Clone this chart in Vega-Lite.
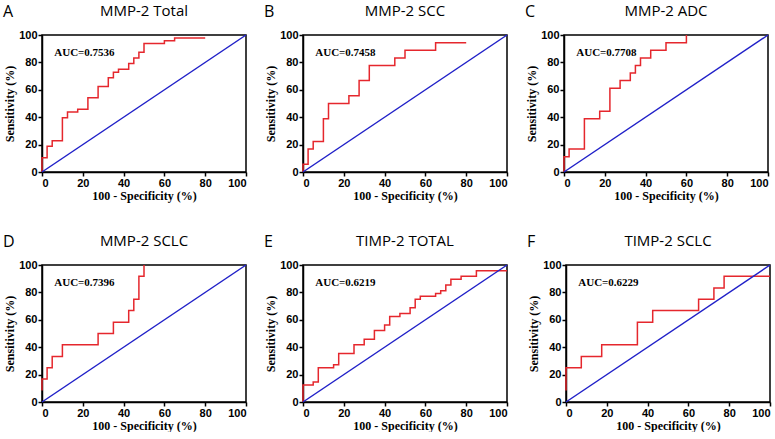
{
  "$schema": "https://vega.github.io/schema/vega-lite/v6.json",
  "background": "white",
  "padding": {"left": 2, "top": 3, "right": 0, "bottom": 0},
  "config": {
    "view": {"stroke": "black", "strokeWidth": 1.5},
    "axis": {
      "grid": false, "labelOverlap": false,
      "domainColor": "black", "domainWidth": 1.5,
      "tickColor": "black", "tickWidth": 1.5, "tickSize": 4,
      "labelFont": "Liberation Sans", "labelFontWeight": "bold", "labelFontSize": 11, "labelColor": "black", "labelPadding": 1,
      "titleFont": "Liberation Serif", "titleFontWeight": "bold", "titleFontSize": 12, "titleColor": "black", "titlePadding": 2
    },
    "title": {"font": "Open Sans", "fontWeight": "normal", "fontSize": 15, "color": "black", "offset": 10},
    "concat": {"spacing": 15}
  },
  "datasets": {
    "A": [{"x":0,"y":0},{"x":0,"y":10.4},{"x":2.5,"y":18.75},{"x":5,"y":22.9},{"x":10,"y":39.6},{"x":12.5,"y":43.75},{"x":17.5,"y":45.8},{"x":22.5,"y":54.2},{"x":27.5,"y":62.5},{"x":32.5,"y":68.75},{"x":35,"y":72.9},{"x":37.5,"y":75},{"x":42.5,"y":79.2},{"x":45,"y":83.3},{"x":47.5,"y":87.5},{"x":50,"y":93.75},{"x":60,"y":95.8},{"x":65,"y":97.9},{"x":80,"y":97.9}],
    "B": [{"x":0,"y":0},{"x":0,"y":5.6},{"x":2.5,"y":16.7},{"x":5,"y":22.2},{"x":10,"y":38.9},{"x":12.5,"y":50},{"x":22.5,"y":55.6},{"x":27.5,"y":66.7},{"x":32.5,"y":77.8},{"x":45,"y":83.3},{"x":50,"y":88.9},{"x":65,"y":94.4},{"x":80,"y":94.4}],
    "C": [{"x":0,"y":0},{"x":0,"y":11.1},{"x":2.5,"y":16.7},{"x":10,"y":38.9},{"x":17.5,"y":44.4},{"x":22.5,"y":61.1},{"x":27.5,"y":66.7},{"x":32.5,"y":72.2},{"x":35,"y":77.8},{"x":37.5,"y":83.3},{"x":42.5,"y":88.9},{"x":50,"y":94.4},{"x":60,"y":100}],
    "D": [{"x":0,"y":8.33},{"x":0,"y":16.7},{"x":2.5,"y":25},{"x":5,"y":33.3},{"x":10,"y":41.7},{"x":27.5,"y":50},{"x":35,"y":58.3},{"x":42.5,"y":66.7},{"x":45,"y":75},{"x":47.5,"y":91.7},{"x":50,"y":100}],
    "E": [{"x":0,"y":0},{"x":0,"y":12.5},{"x":5,"y":14.6},{"x":7.5,"y":25},{"x":15,"y":27.1},{"x":17.5,"y":35.4},{"x":25,"y":41.7},{"x":30,"y":45.8},{"x":35,"y":52.1},{"x":40,"y":56.25},{"x":42.5,"y":62.5},{"x":47.5,"y":64.6},{"x":52.5,"y":68.75},{"x":55,"y":75},{"x":57.5,"y":77.1},{"x":65,"y":79.2},{"x":67.5,"y":81.25},{"x":70,"y":85.4},{"x":72.5,"y":89.6},{"x":77.5,"y":91.7},{"x":85,"y":95.8},{"x":100,"y":95.8}],
    "F": [{"x":0,"y":8.33},{"x":0,"y":25},{"x":7.5,"y":33.3},{"x":17.5,"y":41.7},{"x":35,"y":58.3},{"x":42.5,"y":66.7},{"x":65,"y":75},{"x":72.5,"y":83.3},{"x":77.5,"y":91.7},{"x":100,"y":91.7}],
    "one": [{"k": 1}]
  },
  "spacing": 31,
  "vconcat": [
    {"hconcat": [
      {"title": {"text": "A", "anchor": "start", "fontSize": 16, "offset": -17}, "vconcat": [{
        "width": 204, "height": 137, "title": "MMP-2 Total",
        "layer": [
          {"data": {"name": "A"}, "mark": {"type": "line", "interpolate": "step-after", "color": "#e5272d", "strokeWidth": 1.5}, "encoding": {"x": {"field": "x", "type": "quantitative", "scale": {"domain": [0,100]}, "axis": {"values": [0,20,40,60,80,100], "title": "100 - Specificity (%)"}}, "y": {"field": "y", "type": "quantitative", "scale": {"domain": [0,100]}, "axis": {"values": [0,20,40,60,80,100], "title": "Sensitivity (%)"}}, "order": [{"field": "x"}, {"field": "y"}]}},
          {"data": {"name": "one"}, "mark": {"type": "rule", "color": "#2020c8", "strokeWidth": 1.5}, "encoding": {"x": {"datum": 0, "axis": {"values": [0,20,40,60,80,100], "title": "100 - Specificity (%)"}}, "y": {"datum": 0, "axis": {"values": [0,20,40,60,80,100], "title": "Sensitivity (%)"}}, "x2": {"datum": 100}, "y2": {"datum": 100}}},
          {"data": {"name": "one"}, "mark": {"type": "text", "align": "left", "baseline": "middle", "font": "Liberation Serif", "fontWeight": "bold", "fontSize": 11, "color": "black"}, "encoding": {"x": {"datum": 6, "axis": {"values": [0,20,40,60,80,100], "title": "100 - Specificity (%)"}}, "y": {"datum": 87, "axis": {"values": [0,20,40,60,80,100], "title": "Sensitivity (%)"}}, "text": {"value": "AUC=0.7536"}}}
        ]}]},
      {"title": {"text": "B", "anchor": "start", "fontSize": 16, "offset": -17}, "vconcat": [{
        "width": 204, "height": 137, "title": "MMP-2 SCC",
        "layer": [
          {"data": {"name": "B"}, "mark": {"type": "line", "interpolate": "step-after", "color": "#e5272d", "strokeWidth": 1.5}, "encoding": {"x": {"field": "x", "type": "quantitative", "scale": {"domain": [0,100]}, "axis": {"values": [0,20,40,60,80,100], "title": "100 - Specificity (%)"}}, "y": {"field": "y", "type": "quantitative", "scale": {"domain": [0,100]}, "axis": {"values": [0,20,40,60,80,100], "title": "Sensitivity (%)"}}, "order": [{"field": "x"}, {"field": "y"}]}},
          {"data": {"name": "one"}, "mark": {"type": "rule", "color": "#2020c8", "strokeWidth": 1.5}, "encoding": {"x": {"datum": 0, "axis": {"values": [0,20,40,60,80,100], "title": "100 - Specificity (%)"}}, "y": {"datum": 0, "axis": {"values": [0,20,40,60,80,100], "title": "Sensitivity (%)"}}, "x2": {"datum": 100}, "y2": {"datum": 100}}},
          {"data": {"name": "one"}, "mark": {"type": "text", "align": "left", "baseline": "middle", "font": "Liberation Serif", "fontWeight": "bold", "fontSize": 11, "color": "black"}, "encoding": {"x": {"datum": 6, "axis": {"values": [0,20,40,60,80,100], "title": "100 - Specificity (%)"}}, "y": {"datum": 87, "axis": {"values": [0,20,40,60,80,100], "title": "Sensitivity (%)"}}, "text": {"value": "AUC=0.7458"}}}
        ]}]},
      {"title": {"text": "C", "anchor": "start", "fontSize": 16, "offset": -17}, "vconcat": [{
        "width": 204, "height": 137, "title": "MMP-2 ADC",
        "layer": [
          {"data": {"name": "C"}, "mark": {"type": "line", "interpolate": "step-after", "color": "#e5272d", "strokeWidth": 1.5}, "encoding": {"x": {"field": "x", "type": "quantitative", "scale": {"domain": [0,100]}, "axis": {"values": [0,20,40,60,80,100], "title": "100 - Specificity (%)"}}, "y": {"field": "y", "type": "quantitative", "scale": {"domain": [0,100]}, "axis": {"values": [0,20,40,60,80,100], "title": "Sensitivity (%)"}}, "order": [{"field": "x"}, {"field": "y"}]}},
          {"data": {"name": "one"}, "mark": {"type": "rule", "color": "#2020c8", "strokeWidth": 1.5}, "encoding": {"x": {"datum": 0, "axis": {"values": [0,20,40,60,80,100], "title": "100 - Specificity (%)"}}, "y": {"datum": 0, "axis": {"values": [0,20,40,60,80,100], "title": "Sensitivity (%)"}}, "x2": {"datum": 100}, "y2": {"datum": 100}}},
          {"data": {"name": "one"}, "mark": {"type": "text", "align": "left", "baseline": "middle", "font": "Liberation Serif", "fontWeight": "bold", "fontSize": 11, "color": "black"}, "encoding": {"x": {"datum": 6, "axis": {"values": [0,20,40,60,80,100], "title": "100 - Specificity (%)"}}, "y": {"datum": 87, "axis": {"values": [0,20,40,60,80,100], "title": "Sensitivity (%)"}}, "text": {"value": "AUC=0.7708"}}}
        ]}]}
    ]},
    {"hconcat": [
      {"title": {"text": "D", "anchor": "start", "fontSize": 16, "offset": -17}, "vconcat": [{
        "width": 204, "height": 137, "title": "MMP-2 SCLC",
        "layer": [
          {"data": {"name": "D"}, "mark": {"type": "line", "interpolate": "step-after", "color": "#e5272d", "strokeWidth": 1.5}, "encoding": {"x": {"field": "x", "type": "quantitative", "scale": {"domain": [0,100]}, "axis": {"values": [0,20,40,60,80,100], "title": "100 - Specificity (%)"}}, "y": {"field": "y", "type": "quantitative", "scale": {"domain": [0,100]}, "axis": {"values": [0,20,40,60,80,100], "title": "Sensitivity (%)"}}, "order": [{"field": "x"}, {"field": "y"}]}},
          {"data": {"name": "one"}, "mark": {"type": "rule", "color": "#2020c8", "strokeWidth": 1.5}, "encoding": {"x": {"datum": 0, "axis": {"values": [0,20,40,60,80,100], "title": "100 - Specificity (%)"}}, "y": {"datum": 0, "axis": {"values": [0,20,40,60,80,100], "title": "Sensitivity (%)"}}, "x2": {"datum": 100}, "y2": {"datum": 100}}},
          {"data": {"name": "one"}, "mark": {"type": "text", "align": "left", "baseline": "middle", "font": "Liberation Serif", "fontWeight": "bold", "fontSize": 11, "color": "black"}, "encoding": {"x": {"datum": 6, "axis": {"values": [0,20,40,60,80,100], "title": "100 - Specificity (%)"}}, "y": {"datum": 87, "axis": {"values": [0,20,40,60,80,100], "title": "Sensitivity (%)"}}, "text": {"value": "AUC=0.7396"}}}
        ]}]},
      {"title": {"text": "E", "anchor": "start", "fontSize": 16, "offset": -17}, "vconcat": [{
        "width": 204, "height": 137, "title": "TIMP-2 TOTAL",
        "layer": [
          {"data": {"name": "E"}, "mark": {"type": "line", "interpolate": "step-after", "color": "#e5272d", "strokeWidth": 1.5}, "encoding": {"x": {"field": "x", "type": "quantitative", "scale": {"domain": [0,100]}, "axis": {"values": [0,20,40,60,80,100], "title": "100 - Specificity (%)"}}, "y": {"field": "y", "type": "quantitative", "scale": {"domain": [0,100]}, "axis": {"values": [0,20,40,60,80,100], "title": "Sensitivity (%)"}}, "order": [{"field": "x"}, {"field": "y"}]}},
          {"data": {"name": "one"}, "mark": {"type": "rule", "color": "#2020c8", "strokeWidth": 1.5}, "encoding": {"x": {"datum": 0, "axis": {"values": [0,20,40,60,80,100], "title": "100 - Specificity (%)"}}, "y": {"datum": 0, "axis": {"values": [0,20,40,60,80,100], "title": "Sensitivity (%)"}}, "x2": {"datum": 100}, "y2": {"datum": 100}}},
          {"data": {"name": "one"}, "mark": {"type": "text", "align": "left", "baseline": "middle", "font": "Liberation Serif", "fontWeight": "bold", "fontSize": 11, "color": "black"}, "encoding": {"x": {"datum": 6, "axis": {"values": [0,20,40,60,80,100], "title": "100 - Specificity (%)"}}, "y": {"datum": 87, "axis": {"values": [0,20,40,60,80,100], "title": "Sensitivity (%)"}}, "text": {"value": "AUC=0.6219"}}}
        ]}]},
      {"title": {"text": "F", "anchor": "start", "fontSize": 16, "offset": -17}, "vconcat": [{
        "width": 204, "height": 137, "title": "TIMP-2 SCLC",
        "layer": [
          {"data": {"name": "F"}, "mark": {"type": "line", "interpolate": "step-after", "color": "#e5272d", "strokeWidth": 1.5}, "encoding": {"x": {"field": "x", "type": "quantitative", "scale": {"domain": [0,100]}, "axis": {"values": [0,20,40,60,80,100], "title": "100 - Specificity (%)"}}, "y": {"field": "y", "type": "quantitative", "scale": {"domain": [0,100]}, "axis": {"values": [0,20,40,60,80,100], "title": "Sensitivity (%)"}}, "order": [{"field": "x"}, {"field": "y"}]}},
          {"data": {"name": "one"}, "mark": {"type": "rule", "color": "#2020c8", "strokeWidth": 1.5}, "encoding": {"x": {"datum": 0, "axis": {"values": [0,20,40,60,80,100], "title": "100 - Specificity (%)"}}, "y": {"datum": 0, "axis": {"values": [0,20,40,60,80,100], "title": "Sensitivity (%)"}}, "x2": {"datum": 100}, "y2": {"datum": 100}}},
          {"data": {"name": "one"}, "mark": {"type": "text", "align": "left", "baseline": "middle", "font": "Liberation Serif", "fontWeight": "bold", "fontSize": 11, "color": "black"}, "encoding": {"x": {"datum": 6, "axis": {"values": [0,20,40,60,80,100], "title": "100 - Specificity (%)"}}, "y": {"datum": 87, "axis": {"values": [0,20,40,60,80,100], "title": "Sensitivity (%)"}}, "text": {"value": "AUC=0.6229"}}}
        ]}]}
    ]}
  ]
}
